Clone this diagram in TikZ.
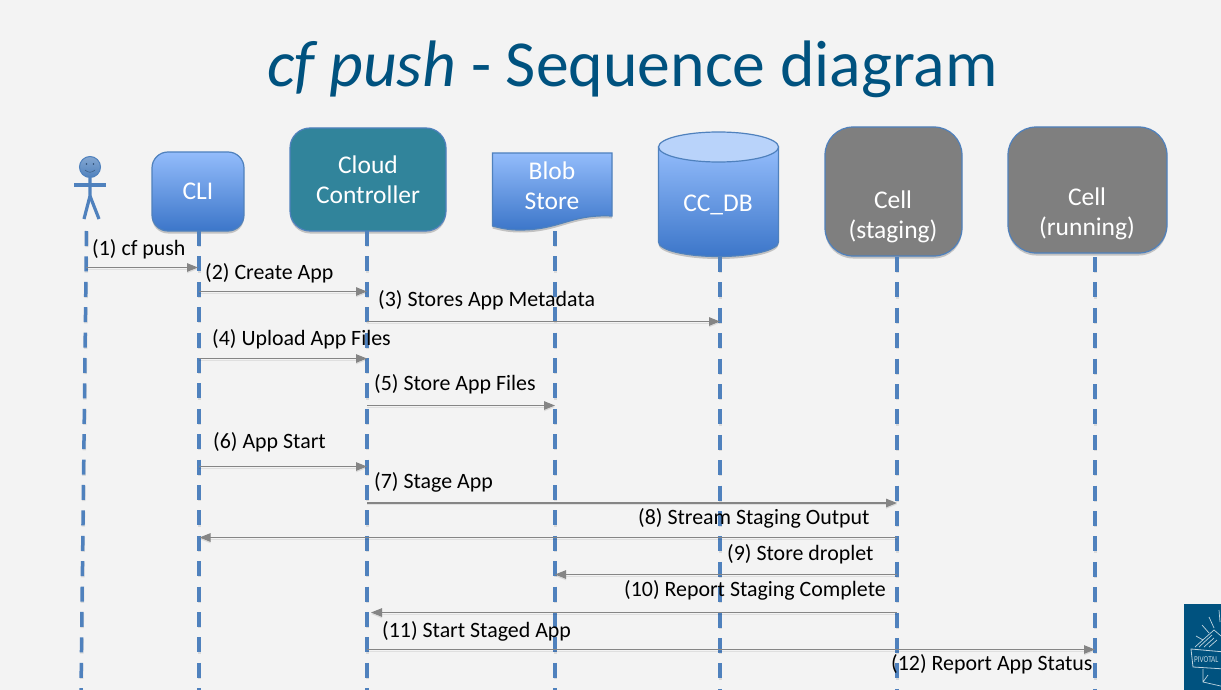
\documentclass[tikz,border=0pt]{standalone}
\usepackage{fontspec}
\setmainfont{Carlito}
\usetikzlibrary{shadows,arrows.meta}
\definecolor{bgc}{HTML}{F3F3F3}
\definecolor{titlec}{HTML}{00527F}
\definecolor{linec}{HTML}{4F81BD}
\definecolor{gtop}{HTML}{93BCFB}
\definecolor{gbot}{HTML}{3C76C9}
\definecolor{teal}{HTML}{31849B}
\definecolor{cellc}{HTML}{7F7F7F}
\definecolor{arrowc}{HTML}{858585}
\definecolor{dbtop}{HTML}{B9D3FA}
\tikzset{
  softshadow/.style={drop shadow={shadow xshift=0pt,shadow yshift=-2.5pt,opacity=.2,fill=black}},
  gradfill/.style={top color=gtop,bottom color=gbot,draw=linec,line width=1.2pt,softshadow},
  boxlabel/.style={text=white,font=\fontsize{25.5}{31}\selectfont,align=center},
  lifebox/.style={rectangle,rounded corners=#1,inner sep=0pt,line width=1.2pt,draw=linec},
  lifeline/.style={draw=linec,line width=3.5pt,dash pattern=on 15pt off 10.4pt,
    preaction={draw=black,opacity=.1,line width=3.5pt,dash pattern=on 15pt off 10.4pt,transform canvas={yshift=-1.2pt,xshift=.4pt}}},
  msg/.style={draw=arrowc,line width=1.1pt,-{Triangle[length=11pt,width=8.5pt,fill=arrowc]},
    preaction={draw=black,opacity=.08,line width=1pt,transform canvas={yshift=-1.5pt}}},
  msglabel/.style={anchor=base west,inner sep=0pt,text=black,font=\fontsize{21.9}{26}\selectfont},
  logoline/.style={draw=white!75!titlec,line width=.7pt}
}
\begin{document}
\begin{tikzpicture}[x=1pt,y=-1pt]
\useasboundingbox (0,0) rectangle (1221,690);
\fill[bgc] (0,0) rectangle (1221,690);
% title
\node[anchor=base,inner sep=0pt,text=titlec,font=\fontsize{65.7}{76}\selectfont] (title) at (632.5,86.5) {\textit{cf push} - Sequence diagram};
% boxes
\node[lifebox=16pt,gradfill,minimum width=92pt,minimum height=79pt,boxlabel] (cli) at (198,191.5) {CLI};
\node[lifebox=20pt,fill=teal,softshadow,minimum width=156pt,minimum height=103pt,boxlabel] (cc) at (368,179.5) {Cloud\\[-1pt]Controller};
% blob store
\path[gradfill] (492.5,153) -- (612,153) -- (612,216) .. controls (570,214) and (560,230) .. (520,230) .. controls (508,230) and (500,228) .. (492.5,226) -- cycle;
\node[boxlabel,inner sep=0pt] (blob) at (552,186) {Blob\\[-1pt]Store};
% database
\path[gradfill] (658.5,147) -- (658.5,242) .. controls (658.5,250) and (685,256.5) .. (718.5,256.5) .. controls (752,256.5) and (778.5,250) .. (778.5,242) -- (778.5,147) -- cycle;
\path[draw=linec,line width=1.2pt,fill=dbtop] (718.5,147) ellipse [x radius=60,y radius=15];
\node[boxlabel,inner sep=0pt] (ccdb) at (718,204.5) {CC\_DB};
% cells
\node[lifebox=28pt,fill=cellc,softshadow,minimum width=137pt,minimum height=129pt] (stagebox) at (893.5,191.5) {};
\node[boxlabel,inner sep=0pt] (staging) at (893,216.5) {Cell\\[-1pt](staging)};
\node[lifebox=28pt,fill=cellc,softshadow,minimum width=159pt,minimum height=126pt] (runbox) at (1087.5,190) {};
\node[boxlabel,inner sep=0pt] (running) at (1087,213.5) {Cell\\[-1pt](running)};
% actor
\coordinate (neck) at (90,178);
\coordinate (hip) at (90,196);
\draw[linec,line width=3.2pt] (neck) -- (hip) -- (84,219);
\draw[linec,line width=3.2pt] (hip) -- (99,219);
\draw[linec,line width=3.4pt] (74,185) -- (105.5,185);
\node[circle,minimum size=21pt,inner sep=0pt,draw=linec,line width=1pt,top color=linec!70!white,bottom color=linec,fill=linec] (head) at (90,167) {};
\fill[linec!60!black] (86.5,164) circle (.8) (93.5,164) circle (.8);
\draw[linec!60!black,line width=.4pt] (85,170) .. controls (88,173) and (92,173) .. (95,170);
% lifeline ends
\coordinate (actortop) at (86.5,231);
\coordinate (actorend) at (81,692);
\coordinate (cliend) at (199,692);
\coordinate (ccend) at (367,692);
\coordinate (blobtop) at (555,231);
\coordinate (blobend) at (555,692);
\coordinate (dbtop) at (720,257);
\coordinate (dbend) at (720,692);
\coordinate (stagetop) at (897,257);
\coordinate (stageend) at (897,692);
\coordinate (runtop) at (1095,257);
\coordinate (runend) at (1095,692);
\draw[lifeline] (actortop) -- (actorend);
\draw[lifeline] (199,231) -- (cliend);
\draw[lifeline] (367,231) -- (ccend);
\draw[lifeline] (blobtop) -- (blobend);
\draw[lifeline] (dbtop) -- (dbend);
\draw[lifeline] (stagetop) -- (stageend);
\draw[lifeline] (runtop) -- (runend);
% message end points
\coordinate (a1) at (86,267.5);   \coordinate (b1) at (198,267.5);
\coordinate (a2) at (199,291.5);  \coordinate (b2) at (367,291.5);
\coordinate (a3) at (367,321.5);  \coordinate (b3) at (720,321.5);
\coordinate (a4) at (199,358.5);  \coordinate (b4) at (367,358.5);
\coordinate (a5) at (367,405.5);  \coordinate (b5) at (555,405.5);
\coordinate (a6) at (199,466.5);  \coordinate (b6) at (367,466.5);
\coordinate (a7) at (367,503);    \coordinate (b7) at (897,503);
\coordinate (a8) at (897,537.5);  \coordinate (b8) at (199.5,537.5);
\coordinate (a9) at (897,574.5);  \coordinate (b9) at (555,574.5);
\coordinate (a10) at (897,612.5); \coordinate (b10) at (371,612.5);
\coordinate (a11) at (367,649.5); \coordinate (b11) at (1095,649.5);
\foreach \i in {1,...,11} {\draw[msg] (a\i) -- (b\i);}
% labels
\node[msglabel] (l1) at (92,255.5) {(1) cf push};
\node[msglabel] (l2) at (205,279.5) {(2) Create App};
\node[msglabel] (l3) at (378,306.7) {(3) Stores App Metadata};
\node[msglabel] (l4) at (212,345.7) {(4) Upload App Files};
\node[msglabel] (l5) at (374,390.7) {(5) Store App Files};
\node[msglabel] (l6) at (213,448.7) {(6) App Start};
\node[msglabel] (l7) at (374,488.7) {(7) Stage App};
\node[msglabel] (l8) at (638,524.7) {(8) Stream Staging Output};
\node[msglabel] (l9) at (727,560.7) {(9) Store droplet};
\node[msglabel] (l10) at (624,596.7) {(10) Report Staging Complete};
\node[msglabel] (l11) at (382,637.7) {(11) Start Staged App};
\node[msglabel] (l12) at (891,670.7) {(12) Report App Status};
% logo
\begin{scope}
\clip (1184,604) rectangle (1221,690);
\fill[titlec] (1184,604) rectangle (1221,690);
\draw[logoline] (1195,647) -- (1214,630) -- (1221,636);
\draw[logoline] (1199,647) -- (1212,635) (1204,647) -- (1214,638) (1209,647) -- (1217,640);
\draw[logoline] (1209,617) -- (1214,628) (1202,625) -- (1209,633) (1196,636) -- (1203,640) (1219,610) -- (1220,622);
\draw[logoline,line width=.8pt] (1191,649) -- (1225,652) -- (1225,669) -- (1193,667) -- cycle;
\node[anchor=west,inner sep=0pt,text=white!75!titlec,font=\fontsize{9}{9}\selectfont,xscale=.8] (logotext) at (1194,660) {PIVOTAL};
\draw[logoline] (1203,669) -- (1203,682) -- (1225,687) (1203,682) -- (1208,675);
\end{scope}
\end{tikzpicture}
\end{document}
